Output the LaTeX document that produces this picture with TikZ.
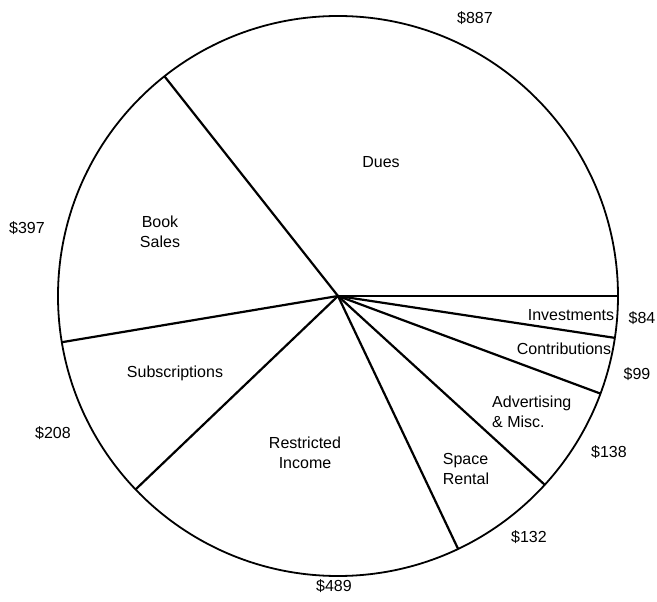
\documentclass[tikz,border=0pt]{standalone}
\usepackage{fontspec}
\setmainfont{Liberation Sans}
\begin{document}
\begin{tikzpicture}[x=1pt,y=1pt,
		slice/.style={font=\fontsize{16}{19.5}\selectfont, align=center, inner sep=0pt},
		amount/.style={font=\fontsize{16}{19.5}\selectfont, inner sep=0pt}]
	\useasboundingbox (-338,296) rectangle (319,-306);

	% pie outline
	\coordinate (c) at (0,0);
	\draw[line width=1.8pt] (c) circle (280);

	% slice borders
	\foreach \a in {0,-8.6,-20.4,-42.4,-64.6,-136.3,-170.5,128.3}
		\draw[line width=2.2pt] (c) -- (\a:280);

	% slice names
	\node[slice] (dues) at (43,134) {Dues};
	\node[slice] (book) at (-178,64) {Book\\Sales};
	\node[slice] (subs) at (-163,-77) {Subscriptions};
	\node[slice] (restr) at (-33,-157) {Restricted\\Income};
	\node[slice, align=left] (space) at (128,-173) {Space\\Rental};
	\node[slice, align=left, anchor=west] (adv) at (154,-116) {Advertising\\\& Misc.};
	\node[slice] (contr) at (226,-53) {Contributions};
	\node[slice] (invest) at (233,-19) {Investments};

	% amounts
	\node[amount] (v887) at (137,278) {\$887};
	\node[amount] (v397) at (-311,68) {\$397};
	\node[amount] (v208) at (-285,-137) {\$208};
	\node[amount] (v489) at (-4,-290) {\$489};
	\node[amount] (v132) at (191,-241) {\$132};
	\node[amount] (v138) at (271,-156) {\$138};
	\node[amount] (v99) at (299,-78) {\$99};
	\node[amount] (v84) at (304,-22) {\$84};
\end{tikzpicture}
\end{document}
